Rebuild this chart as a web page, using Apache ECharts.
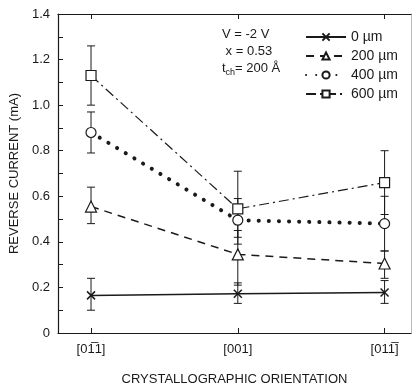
<!DOCTYPE html>
<html lang="en">
<head>
    <meta charset="UTF-8">
    <title>Reverse current vs crystallographic orientation</title>
    <script src="https://cdn.jsdelivr.net/npm/echarts@6/dist/echarts.min.js"></script>
    <style>
        html, body, #chart {
            width: 413px;
            height: 391px;
            padding: 0;
            margin: 0;
            background: #fff;
        }
    </style>
</head>
<body>
<div id="chart"></div>
<script>
    // orientations: 0 = [0-11], 1 = [001], 2 = [01-1]
    var orientations = ["[01\u03051]", "[001]", "[011\u0305]"];
    var positions = [0, 1, 2];
    var seriesNames = ["0 \u00b5m", "200 \u00b5m", "400 \u00b5m", "600 \u00b5m"];

    var current0 = [0.165, 0.172, 0.178];
    var current200 = [0.555, 0.345, 0.305];
    var current400 = [0.88, 0.495, 0.48];
    var current600 = [1.13, 0.545, 0.66];

    var low0 = [0.10, 0.13, 0.13];
    var high0 = [0.24, 0.22, 0.23];
    var low200 = [0.48, 0.21, 0.24];
    var high200 = [0.64, 0.45, 0.36];
    var low400 = [0.79, 0.39, 0.36];
    var high400 = [0.97, 0.59, 0.60];
    var low600 = [1.00, 0.42, 0.52];
    var high600 = [1.26, 0.71, 0.80];

    var yTicks = [0, 0.2, 0.4, 0.6, 0.8, 1.0, 1.2, 1.4];

    var font = "Liberation Sans";
    var ink = "#1a1a1a";

    function pairs(vals) {
        return vals.map(function (v, i) { return [positions[i], v]; });
    }

    function bars(lows, highs) {
        return lows.map(function (l, i) { return [positions[i], l, highs[i]]; });
    }

    function errorSeries(lows, highs) {
        return {
            type: "custom",
            silent: true,
            z: 1,
            data: bars(lows, highs),
            renderItem: function (params, api) {
                var lo = api.coord([api.value(0), api.value(1)]);
                var hi = api.coord([api.value(0), api.value(2)]);
                var st = {stroke: ink, lineWidth: 1};
                return {
                    type: "group",
                    children: [
                        {type: "line", shape: {x1: lo[0], y1: lo[1], x2: hi[0], y2: hi[1]}, style: st},
                        {type: "line", shape: {x1: lo[0] - 4, y1: lo[1], x2: lo[0] + 4, y2: lo[1]}, style: st},
                        {type: "line", shape: {x1: hi[0] - 4, y1: hi[1], x2: hi[0] + 4, y2: hi[1]}, style: st}
                    ]
                };
            }
        };
    }

    var chart = echarts.init(document.getElementById("chart"));

    chart.setOption({
        animation: false,
        backgroundColor: "#fff",
        textStyle: {fontFamily: font, color: ink},
        grid: {left: 57, right: 2, top: 14, bottom: 55},
        legend: {
            orient: "vertical",
            right: 10,
            top: 25,
            itemWidth: 40,
            itemHeight: 9,
            itemGap: 5,
            data: seriesNames,
            textStyle: {fontFamily: font, fontSize: 14, color: ink}
        },
        xAxis: [{
            type: "value",
            min: -0.225,
            max: 2.18,
            splitLine: {show: false},
            axisLine: {onZero: false, lineStyle: {color: ink, width: 1.2}},
            axisTick: {show: true, inside: true, length: 5, customValues: positions, lineStyle: {color: ink}},
            axisLabel: {
                customValues: positions,
                margin: 10,
                fontSize: 13,
                color: ink,
                formatter: function (v) { return orientations[Math.round(v)]; }
            },
            name: "CRYSTALLOGRAPHIC ORIENTATION",
            nameLocation: "middle",
            nameGap: 40,
            nameTextStyle: {fontSize: 13, color: ink}
        }, {
            type: "value",
            position: "top",
            min: -0.225,
            max: 2.18,
            splitLine: {show: false},
            axisLine: {show: true, onZero: false, lineStyle: {color: ink, width: 1.2}},
            axisTick: {show: true, inside: true, length: 5, customValues: positions, lineStyle: {color: ink}},
            axisLabel: {show: false}
        }],
        yAxis: [{
            type: "value",
            min: 0,
            max: 1.4,
            interval: 0.1,
            splitLine: {show: false},
            axisLine: {show: true, onZero: false, lineStyle: {color: ink, width: 1.2}},
            axisTick: {show: true, inside: true, length: 5, lineStyle: {color: ink}},
            axisLabel: {
                fontSize: 13,
                color: ink,
                margin: 8,
                formatter: function (v) {
                    var r = Math.round(v * 10) / 10;
                    if (yTicks.indexOf(r) < 0) return "";
                    return r === 0 ? "0" : r.toFixed(1);
                }
            },
            name: "REVERSE CURRENT (mA)",
            nameLocation: "middle",
            nameGap: 37,
            nameTextStyle: {fontSize: 13, color: ink}
        }, {
            type: "value",
            position: "right",
            min: 0,
            max: 1.4,
            splitLine: {show: false},
            axisLine: {show: true, onZero: false, lineStyle: {color: "#bbb", width: 1}},
            axisTick: {show: false},
            axisLabel: {show: false}
        }],
        graphic: [{
            type: "text",
            left: 222,
            top: 26,
            style: {
                text: "V = -2 V\n x = 0.53\n{t|t}{s|ch}= 200 \u00c5",
                fontFamily: font,
                fontSize: 13,
                lineHeight: 17,
                fill: ink,
                rich: {
                    t: {fontSize: 13, fontFamily: font, fill: ink},
                    s: {fontSize: 9, fontFamily: font, fill: ink, verticalAlign: "bottom", padding: [6, 0, 0, 0]}
                }
            }
        }],
        series: [
            errorSeries(low0, high0),
            errorSeries(low200, high200),
            errorSeries(low400, high400),
            errorSeries(low600, high600),
            {
                name: seriesNames[0],
                type: "line",
                data: pairs(current0),
                symbol: "path://M0,0L10,10M10,0L0,10",
                symbolSize: 8,
                itemStyle: {color: ink, borderColor: ink, borderWidth: 1.5},
                lineStyle: {color: ink, width: 1.5, type: "solid"},
                z: 3
            },
            {
                name: seriesNames[1],
                type: "line",
                data: pairs(current200),
                symbol: "triangle",
                symbolSize: 11,
                itemStyle: {color: "#fff", borderColor: ink, borderWidth: 1.2},
                lineStyle: {color: ink, width: 1.5, type: [8, 6]},
                z: 3
            },
            {
                name: seriesNames[2],
                type: "line",
                data: pairs(current400),
                symbol: "circle",
                symbolSize: 10,
                itemStyle: {color: "#fff", borderColor: ink, borderWidth: 1.2},
                lineStyle: {color: ink, width: 4, type: [0.1, 10], cap: "round"},
                z: 3
            },
            {
                name: seriesNames[3],
                type: "line",
                data: pairs(current600),
                symbol: "rect",
                symbolSize: 10,
                itemStyle: {color: "#fff", borderColor: ink, borderWidth: 1.2},
                lineStyle: {color: ink, width: 1.2, type: [10, 4, 2, 4]},
                z: 3
            }
        ]
    });
</script>
</body>
</html>
